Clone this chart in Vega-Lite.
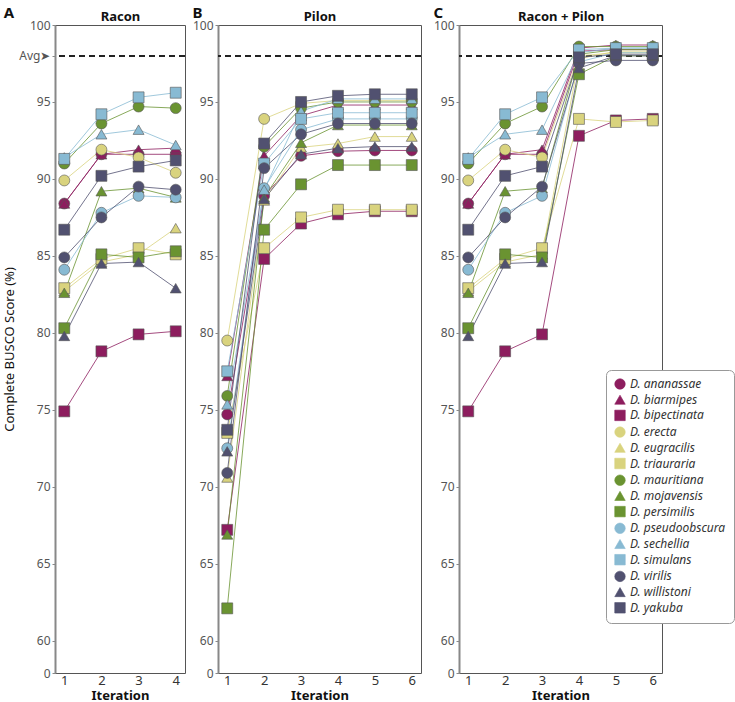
{
"$schema": "https://vega.github.io/schema/vega-lite/v6.json",
"padding": {"left": 3, "top": 5, "right": 0, "bottom": 0},
"config": {
  "font": "Noto Sans",
  "view": {"stroke": "#555", "strokeWidth": 1},
  "axis": {"gridColor": "#d0d0d0", "gridWidth": 1, "labelColor": "#555", "labelFontSize": 12, "tickColor": "#888", "domainColor": "#888"},
  "title": {"fontSize": 15, "fontWeight": "bold", "color": "#111"},
  "legend": {"orient": "none", "legendX": 551, "legendY": 345, "fillColor": "white", "strokeColor": "#999", "cornerRadius": 5, "padding": 8, "labelFontStyle": "italic", "labelFontSize": 12, "labelColor": "#333", "symbolSize": 110, "symbolStrokeColor": "#555", "symbolStrokeWidth": 0.6, "rowPadding": 2.7, "title": null}
},
"datasets": {"d": [
{"panel":"R","species":"D. ananassae","iter":1,"score":88.4},{"panel":"R","species":"D. ananassae","iter":2,"score":91.6},{"panel":"R","species":"D. ananassae","iter":3,"score":91.6},{"panel":"R","species":"D. ananassae","iter":4,"score":91.6},
{"panel":"R","species":"D. biarmipes","iter":1,"score":88.4},{"panel":"R","species":"D. biarmipes","iter":2,"score":91.6},{"panel":"R","species":"D. biarmipes","iter":3,"score":91.9},{"panel":"R","species":"D. biarmipes","iter":4,"score":92.0},
{"panel":"R","species":"D. bipectinata","iter":1,"score":74.9},{"panel":"R","species":"D. bipectinata","iter":2,"score":78.8},{"panel":"R","species":"D. bipectinata","iter":3,"score":79.9},{"panel":"R","species":"D. bipectinata","iter":4,"score":80.1},
{"panel":"R","species":"D. erecta","iter":1,"score":89.9},{"panel":"R","species":"D. erecta","iter":2,"score":91.9},{"panel":"R","species":"D. erecta","iter":3,"score":91.4},{"panel":"R","species":"D. erecta","iter":4,"score":90.4},
{"panel":"R","species":"D. eugracilis","iter":1,"score":82.7},{"panel":"R","species":"D. eugracilis","iter":2,"score":84.6},{"panel":"R","species":"D. eugracilis","iter":3,"score":85.1},{"panel":"R","species":"D. eugracilis","iter":4,"score":86.8},
{"panel":"R","species":"D. triauraria","iter":1,"score":82.9},{"panel":"R","species":"D. triauraria","iter":2,"score":84.8},{"panel":"R","species":"D. triauraria","iter":3,"score":85.5},{"panel":"R","species":"D. triauraria","iter":4,"score":85.1},
{"panel":"R","species":"D. mauritiana","iter":1,"score":91.0},{"panel":"R","species":"D. mauritiana","iter":2,"score":93.6},{"panel":"R","species":"D. mauritiana","iter":3,"score":94.7},{"panel":"R","species":"D. mauritiana","iter":4,"score":94.6},
{"panel":"R","species":"D. mojavensis","iter":1,"score":82.6},{"panel":"R","species":"D. mojavensis","iter":2,"score":89.2},{"panel":"R","species":"D. mojavensis","iter":3,"score":89.4},{"panel":"R","species":"D. mojavensis","iter":4,"score":88.8},
{"panel":"R","species":"D. persimilis","iter":1,"score":80.3},{"panel":"R","species":"D. persimilis","iter":2,"score":85.1},{"panel":"R","species":"D. persimilis","iter":3,"score":84.9},{"panel":"R","species":"D. persimilis","iter":4,"score":85.3},
{"panel":"R","species":"D. pseudoobscura","iter":1,"score":84.1},{"panel":"R","species":"D. pseudoobscura","iter":2,"score":87.8},{"panel":"R","species":"D. pseudoobscura","iter":3,"score":88.9},{"panel":"R","species":"D. pseudoobscura","iter":4,"score":88.8},
{"panel":"R","species":"D. sechellia","iter":1,"score":91.4},{"panel":"R","species":"D. sechellia","iter":2,"score":92.9},{"panel":"R","species":"D. sechellia","iter":3,"score":93.2},{"panel":"R","species":"D. sechellia","iter":4,"score":92.2},
{"panel":"R","species":"D. simulans","iter":1,"score":91.3},{"panel":"R","species":"D. simulans","iter":2,"score":94.2},{"panel":"R","species":"D. simulans","iter":3,"score":95.3},{"panel":"R","species":"D. simulans","iter":4,"score":95.6},
{"panel":"R","species":"D. virilis","iter":1,"score":84.9},{"panel":"R","species":"D. virilis","iter":2,"score":87.5},{"panel":"R","species":"D. virilis","iter":3,"score":89.5},{"panel":"R","species":"D. virilis","iter":4,"score":89.3},
{"panel":"R","species":"D. willistoni","iter":1,"score":79.8},{"panel":"R","species":"D. willistoni","iter":2,"score":84.5},{"panel":"R","species":"D. willistoni","iter":3,"score":84.6},{"panel":"R","species":"D. willistoni","iter":4,"score":82.9},
{"panel":"R","species":"D. yakuba","iter":1,"score":86.7},{"panel":"R","species":"D. yakuba","iter":2,"score":90.2},{"panel":"R","species":"D. yakuba","iter":3,"score":90.8},{"panel":"R","species":"D. yakuba","iter":4,"score":91.2},

{"panel":"P","species":"D. ananassae","iter":1,"score":74.7},{"panel":"P","species":"D. ananassae","iter":2,"score":88.9},{"panel":"P","species":"D. ananassae","iter":3,"score":91.5},{"panel":"P","species":"D. ananassae","iter":4,"score":91.8},{"panel":"P","species":"D. ananassae","iter":5,"score":91.85},{"panel":"P","species":"D. ananassae","iter":6,"score":91.85},
{"panel":"P","species":"D. biarmipes","iter":1,"score":77.2},{"panel":"P","species":"D. biarmipes","iter":2,"score":91.5},{"panel":"P","species":"D. biarmipes","iter":3,"score":94.1},{"panel":"P","species":"D. biarmipes","iter":4,"score":94.8},{"panel":"P","species":"D. biarmipes","iter":5,"score":94.8},{"panel":"P","species":"D. biarmipes","iter":6,"score":94.8},
{"panel":"P","species":"D. bipectinata","iter":1,"score":67.2},{"panel":"P","species":"D. bipectinata","iter":2,"score":84.8},{"panel":"P","species":"D. bipectinata","iter":3,"score":87.1},{"panel":"P","species":"D. bipectinata","iter":4,"score":87.7},{"panel":"P","species":"D. bipectinata","iter":5,"score":87.9},{"panel":"P","species":"D. bipectinata","iter":6,"score":87.9},
{"panel":"P","species":"D. erecta","iter":1,"score":79.5},{"panel":"P","species":"D. erecta","iter":2,"score":93.9},{"panel":"P","species":"D. erecta","iter":3,"score":94.9},{"panel":"P","species":"D. erecta","iter":4,"score":95.1},{"panel":"P","species":"D. erecta","iter":5,"score":95.1},{"panel":"P","species":"D. erecta","iter":6,"score":95.1},
{"panel":"P","species":"D. eugracilis","iter":1,"score":70.6},{"panel":"P","species":"D. eugracilis","iter":2,"score":88.6},{"panel":"P","species":"D. eugracilis","iter":3,"score":92.05},{"panel":"P","species":"D. eugracilis","iter":4,"score":92.3},{"panel":"P","species":"D. eugracilis","iter":5,"score":92.75},{"panel":"P","species":"D. eugracilis","iter":6,"score":92.75},
{"panel":"P","species":"D. triauraria","iter":1,"score":73.5},{"panel":"P","species":"D. triauraria","iter":2,"score":85.5},{"panel":"P","species":"D. triauraria","iter":3,"score":87.5},{"panel":"P","species":"D. triauraria","iter":4,"score":88.0},{"panel":"P","species":"D. triauraria","iter":5,"score":88.0},{"panel":"P","species":"D. triauraria","iter":6,"score":88.0},
{"panel":"P","species":"D. mauritiana","iter":1,"score":75.9},{"panel":"P","species":"D. mauritiana","iter":2,"score":92.1},{"panel":"P","species":"D. mauritiana","iter":3,"score":94.6},{"panel":"P","species":"D. mauritiana","iter":4,"score":95.0},{"panel":"P","species":"D. mauritiana","iter":5,"score":95.0},{"panel":"P","species":"D. mauritiana","iter":6,"score":95.0},
{"panel":"P","species":"D. mojavensis","iter":1,"score":66.9},{"panel":"P","species":"D. mojavensis","iter":2,"score":88.8},{"panel":"P","species":"D. mojavensis","iter":3,"score":92.35},{"panel":"P","species":"D. mojavensis","iter":4,"score":93.5},{"panel":"P","species":"D. mojavensis","iter":5,"score":93.5},{"panel":"P","species":"D. mojavensis","iter":6,"score":93.5},
{"panel":"P","species":"D. persimilis","iter":1,"score":62.1},{"panel":"P","species":"D. persimilis","iter":2,"score":86.7},{"panel":"P","species":"D. persimilis","iter":3,"score":89.65},{"panel":"P","species":"D. persimilis","iter":4,"score":90.9},{"panel":"P","species":"D. persimilis","iter":5,"score":90.9},{"panel":"P","species":"D. persimilis","iter":6,"score":90.9},
{"panel":"P","species":"D. pseudoobscura","iter":1,"score":72.5},{"panel":"P","species":"D. pseudoobscura","iter":2,"score":89.4},{"panel":"P","species":"D. pseudoobscura","iter":3,"score":93.2},{"panel":"P","species":"D. pseudoobscura","iter":4,"score":93.9},{"panel":"P","species":"D. pseudoobscura","iter":5,"score":93.9},{"panel":"P","species":"D. pseudoobscura","iter":6,"score":93.9},
{"panel":"P","species":"D. sechellia","iter":1,"score":75.35},{"panel":"P","species":"D. sechellia","iter":2,"score":89.3},{"panel":"P","species":"D. sechellia","iter":3,"score":94.4},{"panel":"P","species":"D. sechellia","iter":4,"score":95.2},{"panel":"P","species":"D. sechellia","iter":5,"score":95.2},{"panel":"P","species":"D. sechellia","iter":6,"score":95.2},
{"panel":"P","species":"D. simulans","iter":1,"score":77.5},{"panel":"P","species":"D. simulans","iter":2,"score":91.0},{"panel":"P","species":"D. simulans","iter":3,"score":93.9},{"panel":"P","species":"D. simulans","iter":4,"score":94.3},{"panel":"P","species":"D. simulans","iter":5,"score":94.3},{"panel":"P","species":"D. simulans","iter":6,"score":94.3},
{"panel":"P","species":"D. virilis","iter":1,"score":70.9},{"panel":"P","species":"D. virilis","iter":2,"score":90.7},{"panel":"P","species":"D. virilis","iter":3,"score":92.9},{"panel":"P","species":"D. virilis","iter":4,"score":93.6},{"panel":"P","species":"D. virilis","iter":5,"score":93.6},{"panel":"P","species":"D. virilis","iter":6,"score":93.6},
{"panel":"P","species":"D. willistoni","iter":1,"score":72.3},{"panel":"P","species":"D. willistoni","iter":2,"score":88.7},{"panel":"P","species":"D. willistoni","iter":3,"score":91.6},{"panel":"P","species":"D. willistoni","iter":4,"score":92.0},{"panel":"P","species":"D. willistoni","iter":5,"score":92.1},{"panel":"P","species":"D. willistoni","iter":6,"score":92.1},
{"panel":"P","species":"D. yakuba","iter":1,"score":73.7},{"panel":"P","species":"D. yakuba","iter":2,"score":92.3},{"panel":"P","species":"D. yakuba","iter":3,"score":95.0},{"panel":"P","species":"D. yakuba","iter":4,"score":95.4},{"panel":"P","species":"D. yakuba","iter":5,"score":95.5},{"panel":"P","species":"D. yakuba","iter":6,"score":95.5},

{"panel":"RP","species":"D. ananassae","iter":1,"score":88.4},{"panel":"RP","species":"D. ananassae","iter":2,"score":91.6},{"panel":"RP","species":"D. ananassae","iter":3,"score":91.6},{"panel":"RP","species":"D. ananassae","iter":4,"score":98.3},{"panel":"RP","species":"D. ananassae","iter":5,"score":98.4},{"panel":"RP","species":"D. ananassae","iter":6,"score":98.4},
{"panel":"RP","species":"D. biarmipes","iter":1,"score":88.4},{"panel":"RP","species":"D. biarmipes","iter":2,"score":91.6},{"panel":"RP","species":"D. biarmipes","iter":3,"score":91.9},{"panel":"RP","species":"D. biarmipes","iter":4,"score":98.5},{"panel":"RP","species":"D. biarmipes","iter":5,"score":98.7},{"panel":"RP","species":"D. biarmipes","iter":6,"score":98.7},
{"panel":"RP","species":"D. bipectinata","iter":1,"score":74.9},{"panel":"RP","species":"D. bipectinata","iter":2,"score":78.8},{"panel":"RP","species":"D. bipectinata","iter":3,"score":79.9},{"panel":"RP","species":"D. bipectinata","iter":4,"score":92.8},{"panel":"RP","species":"D. bipectinata","iter":5,"score":93.8},{"panel":"RP","species":"D. bipectinata","iter":6,"score":93.9},
{"panel":"RP","species":"D. erecta","iter":1,"score":89.9},{"panel":"RP","species":"D. erecta","iter":2,"score":91.9},{"panel":"RP","species":"D. erecta","iter":3,"score":91.4},{"panel":"RP","species":"D. erecta","iter":4,"score":98.0},{"panel":"RP","species":"D. erecta","iter":5,"score":98.2},{"panel":"RP","species":"D. erecta","iter":6,"score":98.2},
{"panel":"RP","species":"D. eugracilis","iter":1,"score":82.7},{"panel":"RP","species":"D. eugracilis","iter":2,"score":84.6},{"panel":"RP","species":"D. eugracilis","iter":3,"score":85.1},{"panel":"RP","species":"D. eugracilis","iter":4,"score":97.8},{"panel":"RP","species":"D. eugracilis","iter":5,"score":98.3},{"panel":"RP","species":"D. eugracilis","iter":6,"score":98.3},
{"panel":"RP","species":"D. triauraria","iter":1,"score":82.9},{"panel":"RP","species":"D. triauraria","iter":2,"score":84.8},{"panel":"RP","species":"D. triauraria","iter":3,"score":85.5},{"panel":"RP","species":"D. triauraria","iter":4,"score":93.9},{"panel":"RP","species":"D. triauraria","iter":5,"score":93.7},{"panel":"RP","species":"D. triauraria","iter":6,"score":93.8},
{"panel":"RP","species":"D. mauritiana","iter":1,"score":91.0},{"panel":"RP","species":"D. mauritiana","iter":2,"score":93.6},{"panel":"RP","species":"D. mauritiana","iter":3,"score":94.7},{"panel":"RP","species":"D. mauritiana","iter":4,"score":98.6},{"panel":"RP","species":"D. mauritiana","iter":5,"score":98.6},{"panel":"RP","species":"D. mauritiana","iter":6,"score":98.6},
{"panel":"RP","species":"D. mojavensis","iter":1,"score":82.6},{"panel":"RP","species":"D. mojavensis","iter":2,"score":89.2},{"panel":"RP","species":"D. mojavensis","iter":3,"score":89.4},{"panel":"RP","species":"D. mojavensis","iter":4,"score":98.1},{"panel":"RP","species":"D. mojavensis","iter":5,"score":98.4},{"panel":"RP","species":"D. mojavensis","iter":6,"score":98.4},
{"panel":"RP","species":"D. persimilis","iter":1,"score":80.3},{"panel":"RP","species":"D. persimilis","iter":2,"score":85.1},{"panel":"RP","species":"D. persimilis","iter":3,"score":84.9},{"panel":"RP","species":"D. persimilis","iter":4,"score":96.8},{"panel":"RP","species":"D. persimilis","iter":5,"score":98.0},{"panel":"RP","species":"D. persimilis","iter":6,"score":98.0},
{"panel":"RP","species":"D. pseudoobscura","iter":1,"score":84.1},{"panel":"RP","species":"D. pseudoobscura","iter":2,"score":87.8},{"panel":"RP","species":"D. pseudoobscura","iter":3,"score":88.9},{"panel":"RP","species":"D. pseudoobscura","iter":4,"score":97.6},{"panel":"RP","species":"D. pseudoobscura","iter":5,"score":98.2},{"panel":"RP","species":"D. pseudoobscura","iter":6,"score":98.2},
{"panel":"RP","species":"D. sechellia","iter":1,"score":91.4},{"panel":"RP","species":"D. sechellia","iter":2,"score":92.9},{"panel":"RP","species":"D. sechellia","iter":3,"score":93.2},{"panel":"RP","species":"D. sechellia","iter":4,"score":98.2},{"panel":"RP","species":"D. sechellia","iter":5,"score":98.5},{"panel":"RP","species":"D. sechellia","iter":6,"score":98.5},
{"panel":"RP","species":"D. simulans","iter":1,"score":91.3},{"panel":"RP","species":"D. simulans","iter":2,"score":94.2},{"panel":"RP","species":"D. simulans","iter":3,"score":95.3},{"panel":"RP","species":"D. simulans","iter":4,"score":98.4},{"panel":"RP","species":"D. simulans","iter":5,"score":98.5},{"panel":"RP","species":"D. simulans","iter":6,"score":98.5},
{"panel":"RP","species":"D. virilis","iter":1,"score":84.9},{"panel":"RP","species":"D. virilis","iter":2,"score":87.5},{"panel":"RP","species":"D. virilis","iter":3,"score":89.5},{"panel":"RP","species":"D. virilis","iter":4,"score":97.5},{"panel":"RP","species":"D. virilis","iter":5,"score":97.7},{"panel":"RP","species":"D. virilis","iter":6,"score":97.7},
{"panel":"RP","species":"D. willistoni","iter":1,"score":79.8},{"panel":"RP","species":"D. willistoni","iter":2,"score":84.5},{"panel":"RP","species":"D. willistoni","iter":3,"score":84.6},{"panel":"RP","species":"D. willistoni","iter":4,"score":97.2},{"panel":"RP","species":"D. willistoni","iter":5,"score":98.0},{"panel":"RP","species":"D. willistoni","iter":6,"score":98.0},
{"panel":"RP","species":"D. yakuba","iter":1,"score":86.7},{"panel":"RP","species":"D. yakuba","iter":2,"score":90.2},{"panel":"RP","species":"D. yakuba","iter":3,"score":90.8},{"panel":"RP","species":"D. yakuba","iter":4,"score":97.9},{"panel":"RP","species":"D. yakuba","iter":5,"score":98.1},{"panel":"RP","species":"D. yakuba","iter":6,"score":98.1}
]},
"spacing": 4,
"hconcat": [
 {
  "width": 130, "height": 648,
  "title": {"text": "A", "anchor": "start", "frame": "bounds", "offset": -11},
  "data": {"name": "d"},
  "transform": [{"filter": "datum.panel == 'R'"}],
  "resolve": {"axis": {"x": "independent"}},
  "layer": [
   {"mark": {"type": "rule", "strokeDash": [6, 4], "strokeWidth": 1.6, "color": "#222"},
    "encoding": {"y": {"datum": 98, "type": "quantitative", "scale": {"domain": [57.9, 100], "nice": false, "zero": false},
      "axis": {"values": [57.9, 60, 65, 70, 75, 80, 85, 90, 95, 98, 100], "labelExpr": "datum.value < 59 ? '0' : datum.value == 98 ? 'Avg➤' : datum.label", "title": "Complete BUSCO Score (%)", "titleFontSize": 13, "titleFontWeight": "normal", "titleColor": "#111", "titlePadding": 2, "labelPadding": 2, "domainColor": "#888", "domainWidth": 2, "tickSize": 3}}}},
   {"mark": {"type": "line", "strokeWidth": 0.8},
    "encoding": {"x": {"field": "iter", "type": "quantitative", "scale": {"domain": [0.75, 4.25], "nice": false}, "axis": null},
      "y": {"field": "score", "type": "quantitative"},
      "color": {"field": "species", "type": "nominal"},
      "detail": {"field": "species"}}},
   {"mark": {"type": "point", "filled": true, "size": 120, "stroke": "#555", "strokeWidth": 0.6, "opacity": 1},
    "encoding": {"x": {"field": "iter", "type": "quantitative", "axis": {"values": [1, 2, 3, 4], "title": "Iteration", "titleFontSize": 13, "titleFontWeight": "bold", "titleColor": "#111", "labelFontSize": 13, "labelColor": "#333", "ticks": false, "domain": false, "labelPadding": 1, "titlePadding": 2}},
      "y": {"field": "score", "type": "quantitative"},
      "color": {"field": "species", "type": "nominal", "scale": {"domain": ["D. ananassae","D. biarmipes","D. bipectinata","D. erecta","D. eugracilis","D. triauraria","D. mauritiana","D. mojavensis","D. persimilis","D. pseudoobscura","D. sechellia","D. simulans","D. virilis","D. willistoni","D. yakuba"], "range": ["#8d1d5e","#8d1d5e","#8d1d5e","#d9d37e","#d9d37e","#d9d37e","#6a9331","#6a9331","#6a9331","#88bad3","#88bad3","#88bad3","#515170","#515170","#515170"]}},
      "shape": {"field": "species", "type": "nominal", "scale": {"domain": ["D. ananassae","D. biarmipes","D. bipectinata","D. erecta","D. eugracilis","D. triauraria","D. mauritiana","D. mojavensis","D. persimilis","D. pseudoobscura","D. sechellia","D. simulans","D. virilis","D. willistoni","D. yakuba"], "range": ["circle","triangle-up","square","circle","triangle-up","square","circle","triangle-up","square","circle","triangle-up","square","circle","triangle-up","square"]}}}},
   {"mark": {"type": "point", "opacity": 0},
    "encoding": {"x": {"field": "iter", "type": "quantitative", "axis": {"orient": "top", "title": "Racon", "titleFontSize": 13, "titleFontWeight": "bold", "titleColor": "#111", "labels": false, "ticks": false, "domain": false, "grid": false, "titlePadding": 2}},
      "y": {"field": "score", "type": "quantitative"}}}
  ]
 },
 {
  "spacing": 9,
  "hconcat": [
 {
  "width": 203, "height": 648,
  "title": {"text": "B", "anchor": "start", "frame": "bounds", "offset": -11},
  "data": {"name": "d"},
  "transform": [{"filter": "datum.panel == 'P'"}],
  "resolve": {"axis": {"x": "independent"}},
  "layer": [
   {"mark": {"type": "rule", "strokeDash": [6, 4], "strokeWidth": 1.6, "color": "#222"},
    "encoding": {"y": {"datum": 98, "type": "quantitative", "scale": {"domain": [57.9, 100], "nice": false, "zero": false},
      "axis": {"values": [57.9, 60, 65, 70, 75, 80, 85, 90, 95, 100], "labelExpr": "datum.value < 59 ? '0' : datum.label", "title": null, "labelPadding": 2, "domainColor": "#888", "domainWidth": 2, "tickSize": 3}}}},
   {"mark": {"type": "line", "strokeWidth": 0.8},
    "encoding": {"x": {"field": "iter", "type": "quantitative", "scale": {"domain": [0.75, 6.25], "nice": false}, "axis": null},
      "y": {"field": "score", "type": "quantitative"},
      "color": {"field": "species", "type": "nominal"},
      "detail": {"field": "species"}}},
   {"mark": {"type": "point", "filled": true, "size": 120, "stroke": "#555", "strokeWidth": 0.6, "opacity": 1},
    "encoding": {"x": {"field": "iter", "type": "quantitative", "axis": {"values": [1, 2, 3, 4, 5, 6], "title": "Iteration", "titleFontSize": 13, "titleFontWeight": "bold", "titleColor": "#111", "labelFontSize": 13, "labelColor": "#333", "ticks": false, "domain": false, "labelPadding": 1, "titlePadding": 2}},
      "y": {"field": "score", "type": "quantitative"},
      "color": {"field": "species", "type": "nominal"},
      "shape": {"field": "species", "type": "nominal"}}},
   {"mark": {"type": "point", "opacity": 0},
    "encoding": {"x": {"field": "iter", "type": "quantitative", "axis": {"orient": "top", "title": "Pilon", "titleFontSize": 13, "titleFontWeight": "bold", "titleColor": "#111", "labels": false, "ticks": false, "domain": false, "grid": false, "titlePadding": 2}},
      "y": {"field": "score", "type": "quantitative"}}}
  ]
 },
 {
  "width": 203, "height": 648,
  "title": {"text": "C", "anchor": "start", "frame": "bounds", "offset": -11},
  "data": {"name": "d"},
  "transform": [{"filter": "datum.panel == 'RP'"}],
  "resolve": {"axis": {"x": "independent"}},
  "layer": [
   {"mark": {"type": "rule", "strokeDash": [6, 4], "strokeWidth": 1.6, "color": "#222"},
    "encoding": {"y": {"datum": 98, "type": "quantitative", "scale": {"domain": [57.9, 100], "nice": false, "zero": false},
      "axis": {"values": [57.9, 60, 65, 70, 75, 80, 85, 90, 95, 100], "labelExpr": "datum.value < 59 ? '0' : datum.label", "title": null, "labelPadding": 2, "domainColor": "#888", "domainWidth": 2, "tickSize": 3}}}},
   {"mark": {"type": "line", "strokeWidth": 0.8},
    "encoding": {"x": {"field": "iter", "type": "quantitative", "scale": {"domain": [0.75, 6.25], "nice": false}, "axis": null},
      "y": {"field": "score", "type": "quantitative"},
      "color": {"field": "species", "type": "nominal"},
      "detail": {"field": "species"}}},
   {"mark": {"type": "point", "filled": true, "size": 120, "stroke": "#555", "strokeWidth": 0.6, "opacity": 1},
    "encoding": {"x": {"field": "iter", "type": "quantitative", "axis": {"values": [1, 2, 3, 4, 5, 6], "title": "Iteration", "titleFontSize": 13, "titleFontWeight": "bold", "titleColor": "#111", "labelFontSize": 13, "labelColor": "#333", "ticks": false, "domain": false, "labelPadding": 1, "titlePadding": 2}},
      "y": {"field": "score", "type": "quantitative"},
      "color": {"field": "species", "type": "nominal"},
      "shape": {"field": "species", "type": "nominal"}}},
   {"mark": {"type": "point", "opacity": 0},
    "encoding": {"x": {"field": "iter", "type": "quantitative", "axis": {"orient": "top", "title": "Racon + Pilon", "titleFontSize": 13, "titleFontWeight": "bold", "titleColor": "#111", "labels": false, "ticks": false, "domain": false, "grid": false, "titlePadding": 2}},
      "y": {"field": "score", "type": "quantitative"}}}
  ]
 }
  ]
 }
]
}
